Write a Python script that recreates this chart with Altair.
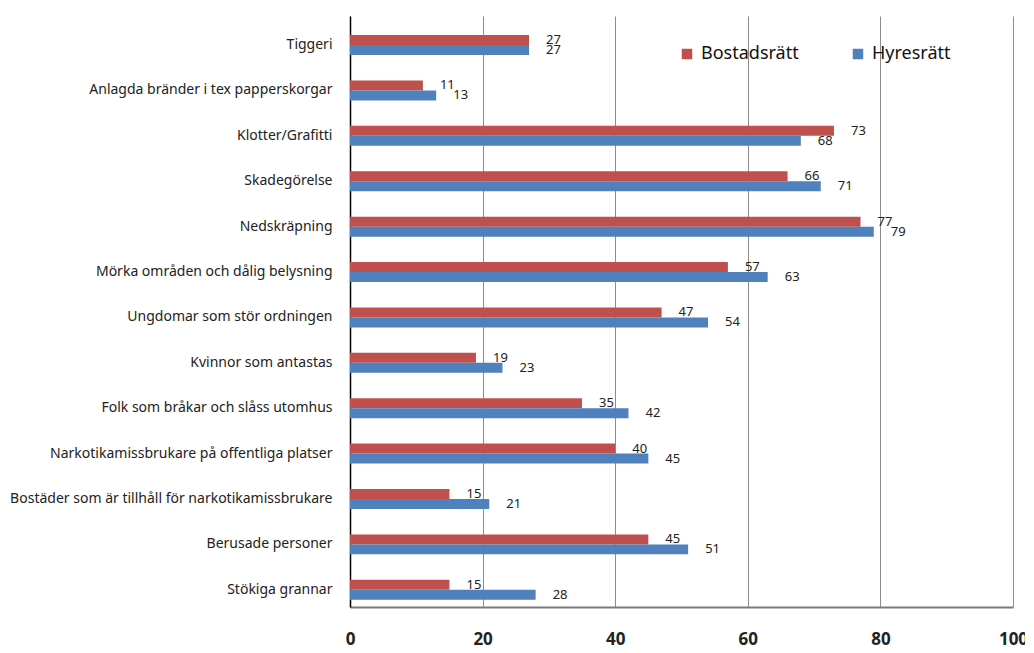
import altair as alt
import pandas as pd

categories = [
    "Tiggeri",
    "Anlagda bränder i tex papperskorgar",
    "Klotter/Grafitti",
    "Skadegörelse",
    "Nedskräpning",
    "Mörka områden och dålig belysning",
    "Ungdomar som stör ordningen",
    "Kvinnor som antastas",
    "Folk som bråkar och slåss utomhus",
    "Narkotikamissbrukare på offentliga platser",
    "Bostäder som är tillhåll för narkotikamissbrukare",
    "Berusade personer",
    "Stökiga grannar",
]
bostadsratt = [27, 11, 73, 66, 77, 57, 47, 19, 35, 40, 15, 45, 15]
hyresratt = [27, 13, 68, 71, 79, 63, 54, 23, 42, 45, 21, 51, 28]
series = ["Bostadsrätt", "Hyresrätt"]
colors = ["#C0504D", "#4F81BD"]
x_ticks = [0, 20, 40, 60, 80, 100]

rows = []
for c, b, h in zip(categories, bostadsratt, hyresratt):
    rows.append({"kategori": c, "serie": series[0], "varde": b})
    rows.append({"kategori": c, "serie": series[1], "varde": h})
df = pd.DataFrame(rows)

FONT = "Noto Sans"

x = alt.X(
    "varde:Q",
    scale=alt.Scale(domain=[0, 100], nice=False),
    axis=alt.Axis(
        values=x_ticks, title=None, grid=True, gridColor="#8c8c8c", gridWidth=1,
        ticks=False, domainColor="#7a7a7a", domainWidth=2,
        labelFont=FONT, labelFontSize=17, labelFontWeight="bold",
        labelPadding=24, labelColor="#222222", labelFlush=False,
    ),
)
y = alt.Y(
    "kategori:N", sort=categories,
    scale=alt.Scale(paddingInner=0.56, paddingOuter=0.29, align=0.725),
    axis=alt.Axis(
        title=None, ticks=False, domain=True, domainColor="#000000", domainWidth=1.5,
        labelFont=FONT, labelFontSize=14, labelColor="#222222", labelPadding=18,
        labelLimit=400, grid=False,
    ),
)
yoff = alt.YOffset("serie:N", sort=series, scale=alt.Scale(domain=series, paddingInner=0, paddingOuter=0))

color = alt.Color(
    "serie:N",
    scale=alt.Scale(domain=series, range=colors),
    legend=alt.Legend(
        title=None, orient="none", legendX=328, legendY=29, direction="horizontal",
        symbolType="square", symbolSize=110, symbolStrokeWidth=0,
        labelFont=FONT, labelFontSize=18, labelColor="#111111", labelOffset=5,
        columnPadding=50, labelLimit=300,
    ),
)

bars = alt.Chart(df).mark_bar().encode(x=x, y=y, yOffset=yoff, color=color)
labels = alt.Chart(df).mark_text(
    align="left", baseline="middle", dx=17, fontSize=13, font=FONT, color="#222222"
).encode(x=x, y=y, yOffset=yoff, text=alt.Text("varde:Q"))

chart = (
    alt.layer(bars, labels)
    .properties(
        width=663, height=591,
        autosize=alt.AutoSizeParams(type="none"),
        padding={"left": 342, "top": 8, "right": 12, "bottom": 42},
        background="white",
    )
    .configure_view(stroke=None)
)

chart.save("out.html", embed_options={"renderer": "svg", "actions": False})
